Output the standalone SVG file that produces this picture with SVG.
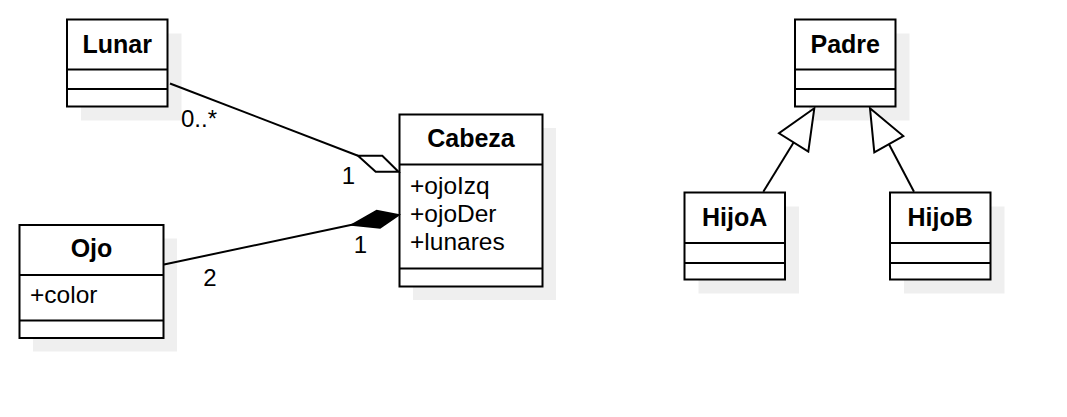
<svg xmlns="http://www.w3.org/2000/svg" width="1067" height="417" viewBox="0 0 1067 417">
<style>
.box{fill:#ffffff;stroke:#000000;stroke-width:2}
.shadow{fill:#efefef;stroke:none}
.div{stroke:#000000;stroke-width:2}
.title{font-family:"Liberation Sans",Arial,sans-serif;font-weight:bold;font-size:25px;text-anchor:middle;fill:#000}
.attr{font-family:"Liberation Sans",Arial,sans-serif;font-size:24.5px;fill:#000}
.lbl{font-family:"Liberation Sans",Arial,sans-serif;font-size:24px;fill:#000}
.edge{fill:none;stroke:#000000;stroke-width:2}
</style>
<rect width="1067" height="417" fill="#ffffff"/>
<g id="Lunar">
<rect class="shadow" x="81" y="33.5" width="100.5" height="87"/>
<rect class="box" x="67" y="19.5" width="100.5" height="87"/>
<line class="div" x1="67" y1="69.5" x2="167.5" y2="69.5"/>
<line class="div" x1="67" y1="89" x2="167.5" y2="89"/>
<text class="title" x="117.2" y="53">Lunar</text>
</g>
<g id="Cabeza">
<rect class="shadow" x="413" y="128" width="143" height="172"/>
<rect class="box" x="399.5" y="114.5" width="143" height="172"/>
<line class="div" x1="399.5" y1="164.5" x2="542.5" y2="164.5"/>
<line class="div" x1="399.5" y1="268.5" x2="542.5" y2="268.5"/>
<text class="title" x="471" y="147">Cabeza</text>
<text class="attr" x="410" y="194">+ojoIzq</text>
<text class="attr" x="410" y="222">+ojoDer</text>
<text class="attr" x="410" y="250">+lunares</text>
</g>
<g id="Ojo">
<rect class="shadow" x="33" y="238.5" width="144" height="113"/>
<rect class="box" x="19.5" y="225" width="144" height="113"/>
<line class="div" x1="19.5" y1="275" x2="163.5" y2="275"/>
<line class="div" x1="19.5" y1="320.5" x2="163.5" y2="320.5"/>
<text class="title" x="91.5" y="257">Ojo</text>
<text class="attr" x="30" y="303">+color</text>
</g>
<g id="Padre">
<rect class="shadow" x="809" y="33.5" width="100.5" height="87"/>
<rect class="box" x="795" y="19.5" width="100.5" height="87"/>
<line class="div" x1="795" y1="69.5" x2="895.5" y2="69.5"/>
<line class="div" x1="795" y1="89" x2="895.5" y2="89"/>
<text class="title" x="845.2" y="53">Padre</text>
</g>
<g id="HijoA">
<rect class="shadow" x="698.5" y="206.5" width="100.5" height="87"/>
<rect class="box" x="684.5" y="192.5" width="100.5" height="87"/>
<line class="div" x1="684.5" y1="243" x2="785" y2="243"/>
<line class="div" x1="684.5" y1="263" x2="785" y2="263"/>
<text class="title" x="734.7" y="226">HijoA</text>
</g>
<g id="HijoB">
<rect class="shadow" x="904" y="206.5" width="100.5" height="87"/>
<rect class="box" x="890" y="192.5" width="100.5" height="87"/>
<line class="div" x1="890" y1="243" x2="990.5" y2="243"/>
<line class="div" x1="890" y1="263" x2="990.5" y2="263"/>
<text class="title" x="940.2" y="226">HijoB</text>
</g>
<g id="connectors">
<g id="lunar-cabeza">
<line class="edge" x1="170" y1="83.5" x2="358" y2="155.7"/>
<polygon points="358,155.7 382.3,155.7 398.5,171.7 375.7,171.7" fill="#ffffff" stroke="#000" stroke-width="2" stroke-linejoin="miter"/>
<text class="lbl" x="181" y="127">0..*</text>
<text class="lbl" x="348.5" y="184" text-anchor="middle">1</text>
</g>
<g id="ojo-cabeza">
<line class="edge" x1="164" y1="264.5" x2="353" y2="224.5"/>
<polygon points="352,224.8 376.7,210.7 398.5,215 380,227.7" fill="#000" stroke="#000" stroke-width="2" stroke-linejoin="miter"/>
<text class="lbl" x="210" y="285.5" text-anchor="middle">2</text>
<text class="lbl" x="360.5" y="253" text-anchor="middle">1</text>
</g>
<g id="hijoA-padre">
<line class="edge" x1="763.3" y1="191.7" x2="793.6" y2="142.5"/>
<polygon points="814.3,108.3 779,133.3 808.3,151.7" fill="#ffffff" stroke="#000" stroke-width="2"/>
</g>
<g id="hijoB-padre">
<line class="edge" x1="914" y1="191.7" x2="889" y2="144.2"/>
<polygon points="870,108.3 903.3,136 874.3,152.3" fill="#ffffff" stroke="#000" stroke-width="2"/>
</g>
</g>
</svg>
